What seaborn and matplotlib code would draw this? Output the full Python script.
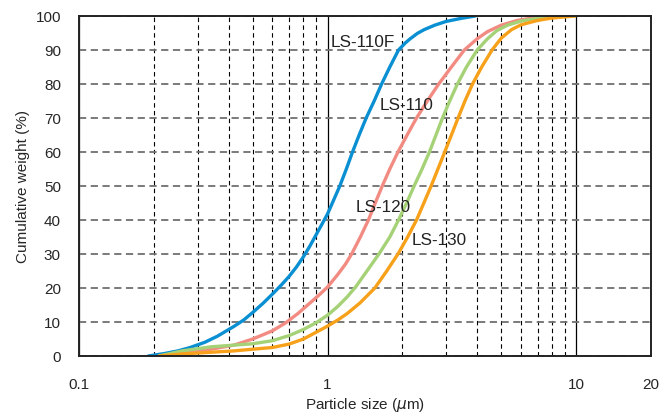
import numpy as np
import pandas as pd
import seaborn as sns
import matplotlib.pyplot as plt
from matplotlib.ticker import FixedLocator, NullFormatter

# particle size (um) vs cumulative weight (%)
ls110f_x = [0.19, 0.22, 0.25, 0.28, 0.32, 0.36, 0.42, 0.46, 0.50, 0.55, 0.60, 0.65, 0.70, 0.75,
            0.80, 0.85, 0.90, 0.95, 1.00, 1.06, 1.12, 1.19, 1.26, 1.34, 1.43, 1.54, 1.65, 1.78,
            1.93, 2.05, 2.15, 2.30, 2.45, 2.70, 3.00, 3.45, 3.93]
ls110f_y = [0, 0.7, 1.5, 2.5, 4.0, 5.8, 8.7, 10.6, 12.8, 15.5, 18.2, 20.8, 23.4, 26.2,
            29.2, 32.4, 35.7, 38.8, 41.8, 46.0, 50.0, 55.0, 60.0, 65.0, 70.0, 75.0, 80.0, 85.0,
            90.0, 92.0, 93.3, 94.9, 96.0, 97.3, 98.4, 99.3, 100]

ls110_x = [0.21, 0.25, 0.30, 0.34, 0.42, 0.50, 0.60, 0.68, 0.76, 0.85, 0.92, 1.00, 1.10, 1.18,
           1.25, 1.355, 1.46, 1.555, 1.66, 1.78, 1.92, 2.09, 2.28, 2.52, 2.80, 3.15, 3.55, 4.00,
           4.40, 5.00, 5.80, 6.80, 8.30]
ls110_y = [0, 0.8, 1.5, 2.0, 3.2, 5.0, 7.4, 9.8, 12.5, 15.6, 17.8, 20.3, 24.0, 27.0,
           30.0, 35.0, 40.0, 45.0, 50.0, 55.0, 60.0, 65.0, 70.0, 75.0, 80.0, 85.0, 90.0, 93.3,
           95.4, 97.3, 98.7, 99.5, 100]

ls120_x = [0.21, 0.26, 0.34, 0.42, 0.50, 0.60, 0.70, 0.80, 0.90, 1.00, 1.10, 1.20, 1.30, 1.45,
           1.62, 1.78, 1.93, 2.08, 2.23, 2.40, 2.57, 2.73, 2.90, 3.10, 3.33, 3.62, 4.00, 4.40,
           4.80, 5.30, 6.00, 7.00, 8.00, 9.90]
ls120_y = [0, 1.5, 2.7, 3.2, 3.6, 4.5, 6.0, 7.8, 9.8, 12.0, 14.6, 17.4, 20.4, 25.3,
           30.3, 35.0, 40.0, 45.0, 50.0, 55.0, 60.0, 65.0, 70.0, 75.0, 80.0, 85.0, 90.0, 93.3,
           95.7, 97.3, 98.5, 99.3, 99.7, 100]

ls130_x = [0.21, 0.26, 0.34, 0.42, 0.50, 0.60, 0.70, 0.80, 0.90, 1.00, 1.10, 1.20, 1.35, 1.55,
           1.73, 1.92, 2.10, 2.28, 2.44, 2.61, 2.78, 2.96, 3.15, 3.35, 3.57, 3.83, 4.17, 4.59,
           5.00, 5.50, 6.00, 7.00, 8.00, 9.90]
ls130_y = [0, 0.6, 1.1, 1.5, 2.0, 2.5, 3.5, 5.0, 7.0, 8.8, 10.6, 12.5, 15.6, 20.0,
           25.0, 30.0, 35.0, 40.0, 45.0, 50.0, 55.0, 60.0, 65.0, 70.0, 75.0, 80.0, 85.0, 90.0,
           93.5, 96.0, 97.4, 98.7, 99.4, 100]

names = ["LS-110F", "LS-110", "LS-120", "LS-130"]
colors = ["#0a90d2", "#f28b82", "#a6d277", "#f7a11b"]
label_x = [1.03, 1.62, 1.30, 2.18]
label_y = [92.4, 74, 44, 34.4]

xtick_vals = [0.1, 1, 10, 20]
xtick_labels = ["0.1", "1", "10", "20"]

df = pd.concat([
    pd.DataFrame({"size": ls110f_x, "weight": ls110f_y, "grade": "LS-110F"}),
    pd.DataFrame({"size": ls110_x, "weight": ls110_y, "grade": "LS-110"}),
    pd.DataFrame({"size": ls120_x, "weight": ls120_y, "grade": "LS-120"}),
    pd.DataFrame({"size": ls130_x, "weight": ls130_y, "grade": "LS-130"}),
])

sns.set_style("white")
plt.rcParams['font.family'] = ['Liberation Sans', 'DejaVu Sans']

fig = plt.figure(figsize=(6.6, 4.14), dpi=100)
ax = fig.add_axes([0.1197, 0.1377, 0.8666, 0.8213])

sns.lineplot(data=df, x="size", y="weight", hue="grade", palette=dict(zip(names, colors)),
             hue_order=names, linewidth=2.4, legend=False, ax=ax, sort=False)
for line in ax.get_lines():
    line.set_solid_joinstyle("round")
    line.set_solid_capstyle("round")

ax.set_xscale("log")
ax.set_xlim(0.1, 20)
ax.set_ylim(0, 100)

ax.xaxis.set_major_locator(FixedLocator(xtick_vals))
ax.set_xticklabels(xtick_labels)
minor = [m * d for d in (0.1, 1) for m in range(2, 10)]
ax.xaxis.set_minor_locator(FixedLocator(minor))
ax.xaxis.set_minor_formatter(NullFormatter())
ax.set_yticks(np.arange(0, 101, 10))

ax.set_axisbelow(True)
ax.grid(which="minor", axis="x", color="black", linestyle=(0, (4, 3)), linewidth=0.8)
ax.grid(which="major", axis="x", color="black", linestyle="-", linewidth=0.9)
ax.grid(which="major", axis="y", color="#707070", linestyle=(0, (4, 2.5)), linewidth=1.3)

ax.tick_params(axis="both", which="both", length=0, labelsize=11)
ax.tick_params(axis="y", pad=13)
ax.tick_params(axis="x", pad=15)

for sp in ax.spines.values():
    sp.set_color("#222222")
    sp.set_linewidth(1.4)

for name, lx, ly in zip(names, label_x, label_y):
    ax.text(lx, ly, name, ha="left", va="center", fontsize=12.3, color="#222222")

ax.set_xlabel(r"Particle size ($\mu$m)", fontsize=11, labelpad=3)
ax.set_ylabel("Cumulative weight (%)", fontsize=11, labelpad=4)

fig.savefig("out.png", dpi=100)
